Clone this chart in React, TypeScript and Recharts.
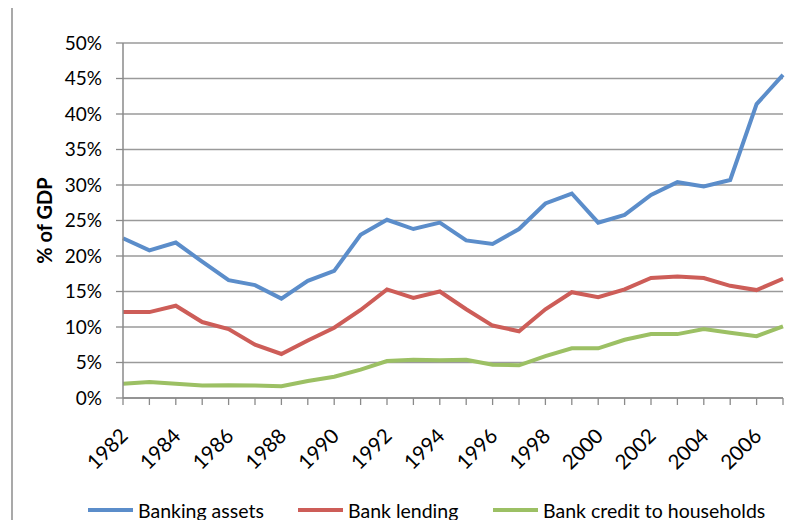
import { LineChart, Line, XAxis, YAxis, CartesianGrid } from 'recharts';

const years = [
  '1982', '1983', '1984', '1985', '1986', '1987', '1988', '1989', '1990', '1991', '1992', '1993', '1994',
  '1995', '1996', '1997', '1998', '1999', '2000', '2001', '2002', '2003', '2004', '2005', '2006', '2007',
];

// % of GDP
const bankingAssets = [
  22.5, 20.8, 21.9, 19.2, 16.6, 15.9, 14.0, 16.5, 17.9, 23.0, 25.1, 23.8, 24.7,
  22.2, 21.7, 23.8, 27.4, 28.8, 24.7, 25.8, 28.6, 30.4, 29.8, 30.7, 41.4, 45.5,
];
const bankLending = [
  12.1, 12.1, 13.0, 10.7, 9.7, 7.5, 6.2, 8.1, 9.9, 12.4, 15.3, 14.1, 15.0,
  12.5, 10.2, 9.4, 12.5, 14.9, 14.2, 15.3, 16.9, 17.1, 16.9, 15.8, 15.2, 16.8,
];
const householdCredit = [
  2.0, 2.25, 2.0, 1.75, 1.8, 1.75, 1.65, 2.4, 3.0, 4.0, 5.2, 5.4, 5.3,
  5.4, 4.7, 4.6, 5.9, 7.0, 7.0, 8.2, 9.0, 9.0, 9.7, 9.2, 8.7, 10.1,
];

const yTicks = [0, 5, 10, 15, 20, 25, 30, 35, 40, 45, 50];

const seriesInfo = [
  { key: 'assets', name: 'Banking assets', color: '#5b8dca' },
  { key: 'lending', name: 'Bank lending', color: '#cd5d58' },
  { key: 'households', name: 'Bank credit to households', color: '#9cc064' },
];

const data = years.map((year, i) => ({
  year,
  assets: bankingAssets[i],
  lending: bankLending[i],
  households: householdCredit[i],
}));

const FONT = 'Lato, "Open Sans", sans-serif';

function YearTick(props: any) {
  const { x, y, payload, index } = props;
  if (index % 2 !== 0) return null;
  const ax = x + 1;
  const ay = y + 25;
  return (
    <text
      x={ax}
      y={ay}
      dy="0.36em"
      textAnchor="end"
      transform={`rotate(-45, ${ax}, ${ay})`}
      fill="#000"
      fontSize={20.5}
      fontFamily={FONT}
    >
      {payload.value}
    </text>
  );
}

const legendPos = [88, 298, 493];

export default function App() {
  return (
    <div
      style={{
        position: 'relative',
        width: 804,
        height: 528,
        margin: -8,
        overflow: 'hidden',
        background: '#fff',
        fontFamily: FONT,
      }}
    >
      <div
        style={{
          position: 'absolute',
          left: 11,
          top: 6,
          width: 840,
          height: 560,
          border: '2px solid #a9a9a9',
          boxSizing: 'border-box',
        }}
      />
      <div style={{ position: 'absolute', left: 0, top: 0 }}>
        <LineChart
          width={804}
          height={528}
          data={data}
          margin={{ top: 43, right: 21, bottom: 50, left: 0 }}
        >
          <CartesianGrid vertical={false} stroke="#9a9a9a" strokeWidth={1.3} />
          <XAxis
            dataKey="year"
            interval={0}
            tick={<YearTick />}
            tickSize={7}
            stroke="#8a8a8a"
            axisLine={{ stroke: '#8a8a8a', strokeWidth: 1.5 }}
            tickLine={{ stroke: '#8a8a8a', strokeWidth: 1.3 }}
            height={80}
          />
          <YAxis
            domain={[0, 50]}
            ticks={yTicks}
            interval={0}
            width={123}
            tickSize={7}
            tickMargin={14}
            tickFormatter={(v: number) => `${v}%`}
            tick={{ fill: '#000', fontSize: 19, fontFamily: FONT }}
            axisLine={{ stroke: '#8a8a8a', strokeWidth: 1.5 }}
            tickLine={{ stroke: '#8a8a8a', strokeWidth: 1.3 }}
            label={{
              value: '% of GDP',
              angle: -90,
              position: 'insideLeft',
              offset: 45,
              style: { fontSize: 20, fontWeight: 'bold', fill: '#000', fontFamily: FONT, textAnchor: 'middle' },
            }}
          />
          {seriesInfo.map((s) => (
            <Line
              key={s.key}
              type="linear"
              dataKey={s.key}
              name={s.name}
              stroke={s.color}
              strokeWidth={4}
              dot={false}
              activeDot={false}
              isAnimationActive={false}
            />
          ))}
        </LineChart>
      </div>
      {seriesInfo.map((s, i) => (
        <div
          key={s.key}
          style={{
            position: 'absolute',
            left: legendPos[i],
            top: 498,
            height: 24,
            display: 'flex',
            alignItems: 'center',
            fontSize: 19.5,
            color: '#000',
            whiteSpace: 'nowrap',
          }}
        >
          <span
            style={{ display: 'inline-block', width: 45, height: 4, background: s.color, marginRight: 5 }}
          />
          {s.name}
        </div>
      ))}
    </div>
  );
}
